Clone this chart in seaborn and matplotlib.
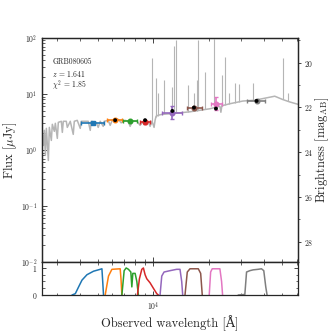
import matplotlib
matplotlib.use("Agg")
import matplotlib.pyplot as plt
import seaborn as sns
import numpy as np
import pandas as pd
from matplotlib.ticker import LogLocator, NullFormatter, MultipleLocator

# model spectrum (observed wavelength in Angstrom, flux in microJy)
spec_wave = [2512, 2543, 2575, 2607, 2640, 2706, 2740, 2809, 2844, 2916, 2953, 3027, 3065,
             3182, 3222, 3262, 3386, 3428, 3558, 3693, 3741, 3882, 4030, 4081, 4452, 4565,
             4622, 4918, 5043, 5169, 5367, 5434, 5711, 5855, 6003, 6469, 6715, 7058, 7326,
             7510, 7699, 8194, 8505, 8829, 9396, 9634, 9876, 10125, 10252, 10380, 10642,
             11184, 12355, 13993, 15849, 17955, 20330, 21904, 23020, 23310, 23600, 26080,
             30660, 35590, 40310, 45640, 50430, 55020, 60790]
spec_flux = [1.90, 1.20, 2.24, 0.80, 2.43, 0.65, 2.53, 1.48, 2.87, 2.15, 2.99, 1.61, 3.11,
             3.25, 2.06, 3.25, 3.25, 2.53, 3.25, 1.90, 3.25, 3.38, 2.43, 3.25, 3.25, 2.24,
             3.25, 3.11, 2.53, 3.25, 2.64, 3.25, 3.38, 2.75, 3.38, 3.53, 3.05, 3.38, 3.25,
             2.64, 3.25, 3.25, 2.75, 3.25, 3.25, 2.64, 3.25, 2.53, 3.38, 3.99, 4.16,
             4.33, 4.42, 4.61, 4.80, 5.11, 5.44, 5.79, 6.03, 4.71, 6.16, 6.69,
             7.47, 7.73, 8.39, 9.11, 7.95, 7.20, 6.55]

# emission lines: wavelength, continuum base, peak
line_wave = [9850, 10380, 10680, 11510, 12720, 13040, 13300, 15520, 16720, 17220, 17500,
             19100, 21360, 23530, 24490, 25860, 27720, 29270, 34620, 50540, 53800]
line_base = [3.25, 3.9, 4.1, 4.3, 4.4, 4.5, 4.5, 4.8, 5.0, 5.05, 5.1,
             5.3, 5.7, 6.1, 6.3, 6.6, 6.9, 7.2, 7.7, 8.2, 7.4]
line_peak = [43, 19, 10.3, 17.6, 13.2, 72, 92, 14.4, 10.3, 18, 92,
             25, 96, 21.7, 45.5, 10.2, 15.6, 15, 15.4, 43, 10.2]

# photometry
band_wave = [4720, 6230, 7460, 9050, 12720, 16660, 21920, 36370]
band_lo = [4070, 5620, 6910, 8510, 11230, 15220, 20500, 32470]
band_hi = [5390, 6770, 8160, 9630, 14290, 18330, 23510, 40300]
band_flux = [3.03, 3.48, 3.25, 3.15, 4.65, 5.71, 6.74, 7.63]
band_err_lo = [0.1, 0.12, 0.1, 0.3, 1.1, 0.2, 1.6, 0.2]
band_err_hi = [0.1, 0.12, 0.1, 0.3, 1.45, 0.2, 2.2, 0.2]
band_marker = ["s", "o", "o", "o", "o", "o", "o", "o"]
model_wave = [6230, 9050, 12720, 16660, 21920, 36370]
model_flux = [3.40, 3.40, 4.97, 5.71, 5.48, 7.50]

# filter transmission curves
filt_wave = [
    [3635, 3789, 3948, 4117, 4381, 4757, 5169, 5281, 5334, 5387],
    [5501, 5732, 5981, 6633, 6700, 6775],
    [6775, 6970, 7147, 7353, 7576, 7671, 7767, 7993, 8164, 8326],
    [8225, 8432, 8687, 8863, 9052, 9245, 9634, 10037, 10471, 10681],
    [10910, 11143, 11468, 12355, 13431, 13993, 14293, 14472],
    [14894, 15325, 15849, 17580, 18110, 18475],
    [20152, 20509, 20920, 23020, 23512, 23809],
    [28912, 31430, 32110, 33450, 34850, 37090, 38690, 39810, 40810, 41480],
]
filt_trans = [
    [0.0, 0.05, 0.30, 0.55, 0.75, 0.88, 0.95, 0.97, 0.5, 0.0],
    [0.0, 0.70, 0.95, 0.97, 0.6, 0.0],
    [0.0, 0.90, 1.00, 0.95, 0.85, 0.30, 0.80, 0.80, 0.50, 0.0],
    [0.0, 0.60, 0.95, 1.00, 0.75, 0.60, 0.45, 0.25, 0.05, 0.0],
    [0.0, 0.70, 0.85, 0.90, 0.95, 0.95, 0.50, 0.0],
    [0.0, 0.85, 0.97, 0.97, 0.80, 0.0],
    [0.0, 0.85, 0.97, 0.97, 0.50, 0.0],
    [0.0, 0.02, 0.85, 0.90, 0.93, 0.95, 0.97, 0.90, 0.30, 0.0],
]

sns.set_style("ticks")
plt.rcParams["font.family"] = ["cmr10", "DejaVu Serif"]
plt.rcParams["mathtext.fontset"] = "cm"
plt.rcParams["axes.formatter.use_mathtext"] = True
plt.rcParams["axes.unicode_minus"] = False

colors = sns.color_palette("tab10", 8)
spec_col = "#b5b5b5"

fig = plt.figure(figsize=(3.32, 3.32), dpi=100)
ax = fig.add_axes([0.1265, 0.2108, 0.771, 0.675])
axf = fig.add_axes([0.1265, 0.1114, 0.771, 0.0994], sharex=ax)

spec = pd.DataFrame({"wave": spec_wave, "flux": spec_flux})
sns.lineplot(data=spec, x="wave", y="flux", ax=ax, color=spec_col, lw=1.1,
             estimator=None, sort=False)
ax.vlines(line_wave, line_base, line_peak, color=spec_col, lw=0.8)

sns.scatterplot(x=model_wave, y=model_flux, ax=ax, color="black", s=8, zorder=4,
                edgecolor="none")
for i in range(len(band_wave)):
    ax.errorbar(band_wave[i], band_flux[i],
                xerr=[[band_wave[i] - band_lo[i]], [band_hi[i] - band_wave[i]]],
                yerr=[[band_err_lo[i]], [band_err_hi[i]]],
                fmt=band_marker[i], ms=3.3, color=colors[i], lw=1.2, capsize=1.5,
                zorder=3)

ax.set_xscale("log")
ax.set_yscale("log")
ax.set_xlim(2500, 61000)
ax.set_ylim(1e-2, 1e2)
ax.set_ylabel(r"Flux [$\mu$Jy]", fontsize=9, labelpad=1)
ax.tick_params(which="both", direction="in", top=True, right=False, labelsize=5.5)
ax.tick_params(which="major", length=3.5, width=0.6)
ax.tick_params(which="minor", length=2, width=0.5)
ax.tick_params(axis="x", labelbottom=False)
ax.yaxis.set_minor_locator(LogLocator(base=10, subs=np.arange(2, 10), numticks=20))
ax.yaxis.set_minor_formatter(NullFormatter())

ax.text(0.04, 0.893, "GRB080605", transform=ax.transAxes, fontsize=5.5, va="center")
ax.text(0.04, 0.84, r"$z$ = 1.641", transform=ax.transAxes, fontsize=5.5, va="center")
ax.text(0.04, 0.786, r"$\chi^2$ = 1.85", transform=ax.transAxes, fontsize=5.5, va="center")

# magnitude axis
axm = ax.twinx()
axm.set_ylim(23.9 - 2.5 * np.log10(1e-2), 23.9 - 2.5 * np.log10(1e2))
axm.yaxis.set_major_locator(MultipleLocator(2))
axm.yaxis.set_minor_locator(MultipleLocator(1))
axm.tick_params(which="both", direction="out", labelsize=5.5, pad=1.5)
axm.tick_params(which="major", length=2.5, width=0.6)
axm.tick_params(which="minor", length=1.5, width=0.5)
axm.set_ylabel(r"Brightness [mag$_{\rm AB}$]", fontsize=9, labelpad=0)

for i in range(len(filt_wave)):
    sns.lineplot(x=filt_wave[i], y=filt_trans[i], ax=axf, color=colors[i], lw=1.1,
                 estimator=None, sort=False)
axf.set_ylim(0, 1.22)
axf.set_yticks([0, 1])
axf.yaxis.set_minor_locator(MultipleLocator(0.25))
axf.tick_params(which="both", direction="in", top=True, right=True, labelsize=5.5)
axf.tick_params(which="major", length=3, width=0.6)
axf.tick_params(which="minor", length=1.8, width=0.5)
axf.set_xlabel(r"Observed wavelength [Å]", fontsize=9, labelpad=2)
axf.set_ylabel("")
axf.xaxis.set_minor_formatter(NullFormatter())

for a in (ax, axf, axm):
    for s in a.spines.values():
        s.set_linewidth(0.9)

fig.savefig("out.png", dpi=100)
